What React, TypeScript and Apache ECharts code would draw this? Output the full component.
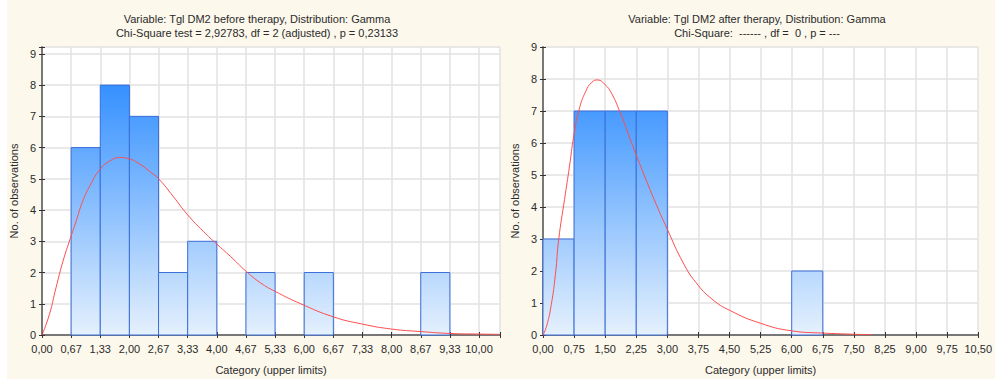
import React, { useEffect, useRef } from "react";
import * as echarts from "echarts";

// ---- Left chart: Tgl DM2 before therapy ----
const leftTitle = "Variable: Tgl DM2 before therapy, Distribution: Gamma";
const leftSubtitle = "Chi-Square test = 2,92783, df = 2 (adjusted) , p = 0,23133";
const leftBinWidth = 0.6667;
const leftBinUpper = [0.6667, 1.3333, 2, 2.6667, 3.3333, 4, 4.6667, 5.3333, 6, 6.6667, 7.3333, 8, 8.6667, 9.3333];
const leftCounts = [0, 6, 8, 7, 2, 3, 0, 2, 0, 2, 0, 0, 0, 2];
const leftCurveX = [0, 0.17, 0.32, 0.48, 0.65, 0.78, 0.93, 1.09, 1.32, 1.55, 1.78, 1.99, 2.24, 2.47, 2.67, 3.0, 3.33, 3.69, 4.0, 4.31, 4.67, 5.0, 5.33, 5.92, 6.67, 7.33, 8.0, 8.67, 9.33, 10.0, 10.46];
const leftCurveY = [0, 0.66, 1.51, 2.36, 3.1, 3.64, 4.28, 4.76, 5.29, 5.57, 5.68, 5.64, 5.47, 5.23, 5.0, 4.44, 3.85, 3.32, 2.91, 2.52, 2.04, 1.67, 1.4, 1.0, 0.58, 0.35, 0.19, 0.11, 0.05, 0.03, 0.02];

// ---- Right chart: Tgl DM2 after therapy ----
const rightTitle = "Variable: Tgl DM2 after therapy, Distribution: Gamma";
const rightSubtitle = "Chi-Square:  ------ , df =  0 , p = ---";
const rightBinWidth = 0.75;
const rightBinUpper = [0.75, 1.5, 2.25, 3, 3.75, 4.5, 5.25, 6, 6.75];
const rightCounts = [3, 7, 7, 7, 0, 0, 0, 0, 2];
const rightCurveX = [0, 0.09, 0.2, 0.3, 0.38, 0.52, 0.64, 0.74, 0.87, 1.03, 1.18, 1.32, 1.5, 1.65, 1.85, 2.05, 2.2, 2.44, 2.68, 3.0, 3.38, 3.69, 4.08, 4.52, 5.24, 6.0, 6.75, 7.93];
const rightCurveY = [0, 0.29, 0.95, 1.9, 3.0, 4.24, 5.28, 6.2, 7.04, 7.61, 7.9, 7.97, 7.82, 7.56, 6.99, 6.31, 5.79, 5.0, 4.24, 3.3, 2.26, 1.64, 1.12, 0.76, 0.37, 0.13, 0.06, 0.01];

const yTicks = [0, 1, 2, 3, 4, 5, 6, 7, 8, 9];
const xAxisName = "Category (upper limits)";
const yAxisName = "No. of observations";

const FONT = "Liberation Sans, Arial, sans-serif";
const TXT = "#2b2b2b";
const FRAME = "#707070";
const GRID = "#e2e2e2";
const CREAM = "#fcf8ec";

function fmtComma(v: number) {
  return v.toFixed(2).replace(".", ",");
}

export default function App() {
  const ref = useRef<HTMLDivElement>(null);
  useEffect(() => {
    if (!ref.current) return;
    const chart = echarts.init(ref.current, undefined, { renderer: "svg" });

    const grids = [
      { left: 42, top: 47, width: 458, height: 290 },
      { left: 543, top: 47, width: 446, height: 289 },
    ];

    const gradFor = (g: any) =>
      new echarts.graphic.LinearGradient(
        0, g.top, 0, g.top + g.height,
        [
          { offset: 0, color: "#1a82ff" },
          { offset: 1, color: "#e6f1fd" },
        ],
        true
      );

    const mkBars = (upper: number[], counts: number[], width: number) =>
      upper.map((u, i) => [u - width, u, counts[i]]);

    const renderBars = (gi: number) => (params: any, api: any) => {
      const lo = api.value(0);
      const hi = api.value(1);
      const c = api.value(2);
      if (!c) return null;
      const p1 = api.coord([lo, c]);
      const p2 = api.coord([hi, 0]);
      return {
        type: "rect",
        shape: { x: p1[0], y: p1[1], width: p2[0] - p1[0], height: p2[1] - p1[1] },
        style: { fill: gradFor(grids[gi]), stroke: "#3a6ed8", lineWidth: 1 },
      };
    };

    const isTick = (v: number, step: number) => Math.abs(v / step - Math.round(v / step)) < 1e-3;

    const mkXAxes = (gi: number, max: number, interval: number) => [
      {
        type: "value",
        gridIndex: gi,
        min: 0,
        max,
        interval,
        position: "bottom",
        name: xAxisName,
        nameLocation: "middle",
        nameGap: 29,
        nameTextStyle: { fontFamily: FONT, fontSize: 11, color: TXT },
        axisLine: { show: true, lineStyle: { color: FRAME, width: 1.5 } },
        axisTick: { show: true, inside: true, length: 3, lineStyle: { color: "#333" } },
        axisLabel: {
          fontFamily: FONT,
          fontSize: 11,
          color: TXT,
          margin: 8,
          showMaxLabel: true,
          formatter: (v: number) => (isTick(v, interval) ? fmtComma(v) : ""),
        },
        splitLine: { show: true, lineStyle: { color: GRID, width: 1.5 } },
      },
      {
        type: "value",
        gridIndex: gi,
        min: 0,
        max,
        interval,
        position: "top",
        axisLine: { show: true, lineStyle: { color: FRAME, width: 1.5 } },
        axisTick: { show: true, inside: true, length: 3, lineStyle: { color: "#333" } },
        axisLabel: { show: false },
        splitLine: { show: false },
      },
    ];

    const mkYAxes = (gi: number, max: number) => [
      {
        type: "value",
        gridIndex: gi,
        min: 0,
        max,
        interval: 1,
        position: "left",
        name: yAxisName,
        nameLocation: "middle",
        nameGap: 23,
        nameTextStyle: { fontFamily: FONT, fontSize: 11, color: TXT },
        axisLine: { show: true, lineStyle: { color: FRAME, width: 1.5 } },
        axisTick: { show: true, inside: true, length: 3, lineStyle: { color: "#333" } },
        axisLabel: {
          fontFamily: FONT,
          fontSize: 11,
          color: TXT,
          margin: 6,
          formatter: (v: number) => (yTicks.includes(v) ? String(v) : ""),
        },
        splitLine: { show: true, lineStyle: { color: GRID, width: 1.5 } },
      },
      {
        type: "value",
        gridIndex: gi,
        min: 0,
        max,
        interval: 1,
        position: "right",
        axisLine: { show: true, lineStyle: { color: FRAME, width: 1.5 } },
        axisTick: { show: true, inside: true, length: 3, lineStyle: { color: "#333" } },
        axisLabel: { show: false },
        splitLine: { show: false },
      },
    ];

    const titleText = (x: number, y: number, text: string) => ({
      type: "text",
      x,
      y,
      style: {
        text,
        align: "center",
        verticalAlign: "middle",
        font: `11px ${FONT}`,
        fill: TXT,
      },
    });

    chart.setOption({
      animation: false,
      backgroundColor: CREAM,
      grid: grids.map((g) => ({ ...g, show: true, backgroundColor: "#ffffff", borderWidth: 0 })),
      xAxis: [...mkXAxes(0, 10.48, 2 / 3), ...mkXAxes(1, 10.5, 0.75)],
      yAxis: [...mkYAxes(0, 9.22), ...mkYAxes(1, 9)],
      graphic: [
        { type: "rect", shape: { x: 0, y: 0, width: 7, height: 380 }, style: { fill: "#ffffff" }, silent: true },
        { type: "rect", shape: { x: 0, y: 379, width: 995, height: 1 }, style: { fill: "#ffffff" }, silent: true },
        titleText(257, 19, leftTitle),
        titleText(257, 33, leftSubtitle),
        titleText(757, 19, rightTitle),
        titleText(757, 33, rightSubtitle),
      ],
      series: [
        {
          type: "custom",
          xAxisIndex: 0,
          yAxisIndex: 0,
          renderItem: renderBars(0),
          encode: { x: [0, 1], y: 2 },
          data: mkBars(leftBinUpper, leftCounts, leftBinWidth),
          z: 2,
        },
        {
          type: "line",
          xAxisIndex: 0,
          yAxisIndex: 0,
          data: leftCurveX.map((x, i) => [x, leftCurveY[i]]),
          smooth: 0.5,
          symbol: "none",
          lineStyle: { color: "#ff4d4d", width: 1 },
          z: 3,
        },
        {
          type: "custom",
          xAxisIndex: 2,
          yAxisIndex: 2,
          renderItem: renderBars(1),
          encode: { x: [0, 1], y: 2 },
          data: mkBars(rightBinUpper, rightCounts, rightBinWidth),
          z: 2,
        },
        {
          type: "line",
          xAxisIndex: 2,
          yAxisIndex: 2,
          data: rightCurveX.map((x, i) => [x, rightCurveY[i]]),
          smooth: 0.5,
          symbol: "none",
          lineStyle: { color: "#ff4d4d", width: 1 },
          z: 3,
        },
      ],
    });

    return () => chart.dispose();
  }, []);

  return (
    <div
      ref={ref}
      style={{ position: "fixed", left: 0, top: 0, width: 995, height: 380 }}
    />
  );
}
